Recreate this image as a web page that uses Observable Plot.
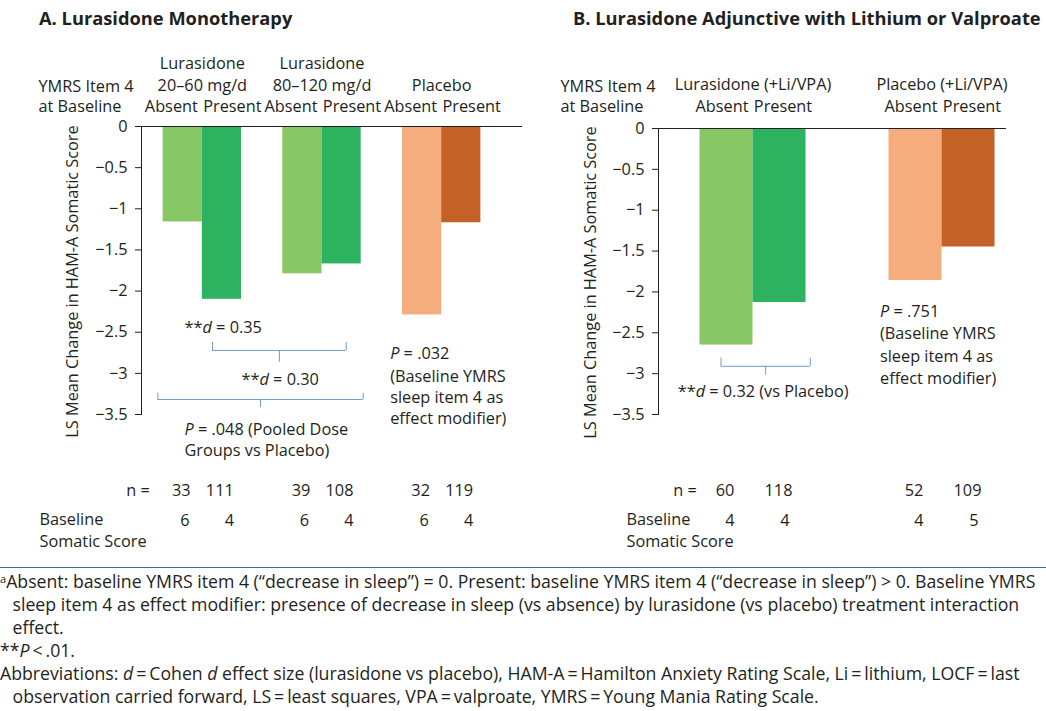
<!DOCTYPE html>
<html><head><meta charset="utf-8">
<script src="https://cdn.jsdelivr.net/npm/d3@7"></script>
<script src="https://cdn.jsdelivr.net/npm/@observablehq/plot@0.6"></script>
<style>
body{margin:0;background:#fff;}
#root{position:relative;width:1046px;height:711px;font-family:"Open Sans",sans-serif;color:#231f20;overflow:hidden;background:#fff}
.title{position:absolute;top:8px;font-weight:700;font-size:18.3px;line-height:20px;white-space:nowrap}
.panel{position:absolute;top:40px}
#foot{position:absolute;left:0;top:567px;width:1046px;border-top:1.6px solid #3b6e9c;padding-top:2px;font-size:17.7px;line-height:23px}
#foot div{white-space:nowrap}
#foot .ind{padding-left:12.5px}
#foot sup{font-size:11px;vertical-align:5px;line-height:0}
</style></head><body>
<div id="root">
  <div class="title" style="left:39px">A. Lurasidone Monotherapy</div>
  <div class="title" style="left:573px">B. Lurasidone Adjunctive with Lithium or Valproate</div>
  <div id="pa" class="panel" style="left:0"></div>
  <div id="pb" class="panel" style="left:530px"></div>
  <div id="foot">
    <div><sup>a</sup>Absent: baseline YMRS item 4 (“decrease in sleep”) = 0. Present: baseline YMRS item 4 (“decrease in sleep”) &gt; 0. Baseline YMRS</div>
    <div class="ind">sleep item 4 as effect modifier: presence of decrease in sleep (vs absence) by lurasidone (vs placebo) treatment interaction</div>
    <div class="ind">effect.</div>
    <div>**<i>P</i>&thinsp;&lt;&thinsp;.01.</div>
    <div>Abbreviations: <i>d</i>&thinsp;=&thinsp;Cohen <i>d</i> effect size (lurasidone vs placebo), HAM-A&thinsp;=&thinsp;Hamilton Anxiety Rating Scale, Li&thinsp;=&thinsp;lithium, LOCF&thinsp;=&thinsp;last</div>
    <div class="ind">observation carried forward, LS&thinsp;=&thinsp;least squares, VPA&thinsp;=&thinsp;valproate, YMRS&thinsp;=&thinsp;Young Mania Rating Scale.</div>
  </div>
</div>
<script>
// ---------- data ----------
const conditions = ["Absent", "Present"];
const yTicks = [0, -0.5, -1, -1.5, -2, -2.5, -3, -3.5];
const yLabel = "LS Mean Change in HAM-A Somatic Score";
const rowHeader = "YMRS Item 4\nat Baseline";
const baselineHeader = "Baseline\nSomatic Score";

// Panel A: monotherapy
const groupsA = ["Lurasidone\n20–60 mg/d", "Lurasidone\n80–120 mg/d", "Placebo"];
const armA = ["lurasidone", "lurasidone", "placebo"];
const lsMeanA = [[-1.16, -2.10], [-1.79, -1.67], [-2.29, -1.17]];
const nA = [[33, 111], [39, 108], [32, 119]];
const baselineA = [[6, 4], [6, 4], [6, 4]];
const notesA = ["**_d_ = 0.35", "**_d_ = 0.30", "_P_ = .048 (Pooled Dose", "Groups vs Placebo)",
                "_P_ = .032", "(Baseline YMRS", "sleep item 4 as", "effect modifier)"];

// Panel B: adjunctive with Li/VPA
const groupsB = ["Lurasidone (+Li/VPA)", "Placebo (+Li/VPA)"];
const armB = ["lurasidone", "placebo"];
const lsMeanB = [[-2.65, -2.13], [-1.86, -1.45]];
const nB = [[60, 118], [52, 109]];
const baselineB = [[4, 4], [4, 5]];
const notesB = ["**_d_ = 0.32 (vs Placebo)", "_P_ = .751", "(Baseline YMRS", "sleep item 4 as", "effect modifier)"];

const colorKeys = ["lurasidone Absent", "lurasidone Present", "placebo Absent", "placebo Present"];
const colorRange = ["#88c765", "#2db360", "#f5ad7e", "#c46127"];

// ---------- helpers ----------
const INK = "#231f20", BRACKET = "#6d9bd4", FS = 16.3;
const FONT = '"Open Sans", sans-serif';
const ctx = document.createElement("canvas").getContext("2d");
function tw(s, it) { ctx.font = `${it ? "italic " : ""}${FS}px "Open Sans"`; return ctx.measureText(s).width; }
function parse(s) { return s.split(/(_[^_]+_)/).filter(p => p).map(p => p.startsWith("_") ? [p.slice(1, -1), true] : [p, false]); }
function richLine(str, group, yv, dx) {
  let off = dx; const ms = [];
  for (const [s, it] of parse(str)) {
    const lead = s.match(/^\s*/)[0];
    const body = s.slice(lead.length);
    const x0 = off + (lead ? tw(lead, it) : 0);
    ms.push(Plot.text([body], {x: () => group, y: () => yv, text: d => d, dx: x0, textAnchor: "start",
      lineAnchor: "bottom", fontStyle: it ? "italic" : "normal", fill: INK, fontSize: FS}));
    off += tw(s, it);
  }
  return ms;
}
function rows(groups, arm, vals, n, base) {
  return groups.flatMap((g, i) => conditions.map((c, j) => ({group: g, condition: c, key: arm[i] + " " + c,
    value: vals[i][j], n: n[i][j], base: base[i][j]})));
}
const fmt = d => d === 0 ? "0" : "\u2212" + Math.abs(d);

function makePanel(o) {
  const xScale = {type: "band", domain: o.groups, range: o.xRange, paddingInner: o.pad, paddingOuter: o.pad / 2, round: false};
  const sx = Plot.scale({x: xScale});
  const half = sx.bandwidth / 2;
  const center = g => sx.apply(g) + half;
  const absent = o.data.filter(d => d.condition === "Absent");
  const present = o.data.filter(d => d.condition === "Present");
  const marks = [
    Plot.barY(absent, {x: "group", y: "value", fill: "key", insetRight: half}),
    Plot.barY(present, {x: "group", y: "value", fill: "key", insetLeft: half}),
    Plot.ruleY([0], {stroke: INK, strokeWidth: 1.2}),
    // y label
    Plot.text([yLabel], {frameAnchor: "left", text: d => d, rotate: -90, textAnchor: "middle", dx: o.yLabelDx, dy: 11, fontSize: FS, fill: INK}),
    // header row
    Plot.text([rowHeader], {frameAnchor: "top-left", text: d => d, textAnchor: "start", lineAnchor: "bottom",
      dx: o.rowHeaderDx, dy: o.absentDy, lineHeight: 1.25, fontSize: FS, fill: INK}),
    Plot.text(o.groups, {x: d => d, text: d => d, frameAnchor: "top", lineAnchor: "bottom", dy: o.groupDy,
      lineHeight: 1.37, fontSize: FS, fill: INK}),
    Plot.text(o.groups, {x: d => d, text: () => conditions[0], frameAnchor: "top", lineAnchor: "bottom", dx: -31, dy: o.absentDy, fontSize: FS, fill: INK}),
    Plot.text(o.groups, {x: d => d, text: () => conditions[1], frameAnchor: "top", lineAnchor: "bottom", dx: 30, dy: o.absentDy, fontSize: FS, fill: INK}),
    // n row
    Plot.text([o.groups[0]], {x: d => d, text: () => "n =", textAnchor: "end", frameAnchor: "bottom", lineAnchor: "bottom", dx: o.nEqDx, dy: 81, fontSize: FS, fill: INK}),
    Plot.text(absent, {x: "group", text: "n", frameAnchor: "bottom", lineAnchor: "bottom", dx: o.nDx[0], dy: 81, fontSize: FS, fill: INK}),
    Plot.text(present, {x: "group", text: "n", frameAnchor: "bottom", lineAnchor: "bottom", dx: o.nDx[1], dy: 81, fontSize: FS, fill: INK}),
    // baseline row
    Plot.text([baselineHeader], {frameAnchor: "bottom-left", text: d => d, textAnchor: "start", lineAnchor: "bottom",
      dx: o.baseHeaderDx, dy: 132, lineHeight: 1.29, fontSize: FS, fill: INK}),
    Plot.text(absent, {x: "group", text: "base", frameAnchor: "bottom", lineAnchor: "bottom", dx: o.bDx[0], dy: 111, fontSize: FS, fill: INK}),
    Plot.text(present, {x: "group", text: "base", frameAnchor: "bottom", lineAnchor: "bottom", dx: o.bDx[1], dy: 111, fontSize: FS, fill: INK})
  ];
  for (const b of o.brackets) {
    marks.push(
      Plot.ruleY([b.y], {y: d => d, x1: () => b.from, x2: () => b.to, insetLeft: half + b.nl, insetRight: half - b.nr, stroke: BRACKET, strokeWidth: 1}),
      Plot.ruleX([b.from], {x: d => d, dx: b.nl, y1: () => b.y, y2: () => b.top, stroke: BRACKET, strokeWidth: 1}),
      Plot.ruleX([b.to], {x: d => d, dx: b.nr, y1: () => b.y, y2: () => b.top, stroke: BRACKET, strokeWidth: 1}),
      Plot.ruleX([b.from], {x: d => d, dx: (center(b.to) - center(b.from) + b.nl + b.nr) / 2, y1: () => b.y, y2: () => b.bottom, stroke: BRACKET, strokeWidth: 1})
    );
  }
  for (const a of o.notes) marks.push(...richLine(a.text, a.group, a.y, a.dx));
  return Plot.plot({
    width: o.width, height: 520,
    marginTop: o.marginTop, marginBottom: 146, marginLeft: o.marginLeft, marginRight: o.marginRight,
    x: {...xScale, axis: null},
    y: {domain: [-3.5, 0], ticks: yTicks, tickSize: 6, tickPadding: 8, tickFormat: fmt, label: null, line: true},
    color: {domain: colorKeys, range: colorRange},
    style: {fontFamily: FONT, fontSize: FS + "px", color: INK, background: "transparent", overflow: "visible"},
    marks
  });
}

const dataA = rows(groupsA, armA, lsMeanA, nA, baselineA);
const dataB = rows(groupsB, armB, lsMeanB, nB, baselineB);

const panelA = makePanel({
  data: dataA, groups: groupsA, width: 530, marginTop: 86, marginLeft: 141, marginRight: 8,
  xRange: [142, 501], pad: 0.345,
  yLabelDx: -69, rowHeaderDx: -103, groupDy: -35.5, absentDy: -14.3,
  nEqDx: -52.5, nDx: [-21, 17.5], baseHeaderDx: -102, bDx: [-17.5, 27],
  brackets: [
    {from: groupsA[0], to: groupsA[1], y: -2.722, top: -2.625, bottom: -2.864, nl: 10.2, nr: 24.2},
    {from: groupsA[0], to: groupsA[1], y: -3.318, top: -3.241, bottom: -3.415, nl: -44.5, nr: 41.2}
  ],
  notes: [
    {text: notesA[0], group: groupsA[0], y: -2.515, dx: -17.8},
    {text: notesA[1], group: groupsA[0], y: -3.147, dx: 39.2},
    {text: notesA[2], group: groupsA[0], y: -3.745, dx: -17.8},
    {text: notesA[3], group: groupsA[0], y: -4.01, dx: -17.8},
    {text: notesA[4], group: groupsA[2], y: -2.831, dx: -51.5},
    {text: notesA[5], group: groupsA[2], y: -3.107, dx: -51.5},
    {text: notesA[6], group: groupsA[2], y: -3.360, dx: -51.5},
    {text: notesA[7], group: groupsA[2], y: -3.621, dx: -51.5}
  ]
});
const panelB = makePanel({
  data: dataB, groups: groupsB, width: 516, marginTop: 88, marginLeft: 128, marginRight: 40,
  xRange: [128, 506], pad: 0.439,
  yLabelDx: -68, rowHeaderDx: -98, groupDy: -38.7, absentDy: -16.3,
  nEqDx: -56.3, nDx: [-28, 25.5], baseHeaderDx: -32, bDx: [-23, 32],
  brackets: [
    {from: groupsB[0], to: groupsB[0], y: -2.91, top: -2.81, bottom: -3.02, nl: -32, nr: 57.3}
  ],
  notes: [
    {text: notesB[0], group: groupsB[0], y: -3.29, dx: -75.3},
    {text: notesB[1], group: groupsB[1], y: -2.308, dx: -62},
    {text: notesB[2], group: groupsB[1], y: -2.581, dx: -62},
    {text: notesB[3], group: groupsB[1], y: -2.859, dx: -62},
    {text: notesB[4], group: groupsB[1], y: -3.125, dx: -62}
  ]
});
document.getElementById("pa").append(panelA);
document.getElementById("pb").append(panelB);
</script>
</body></html>
